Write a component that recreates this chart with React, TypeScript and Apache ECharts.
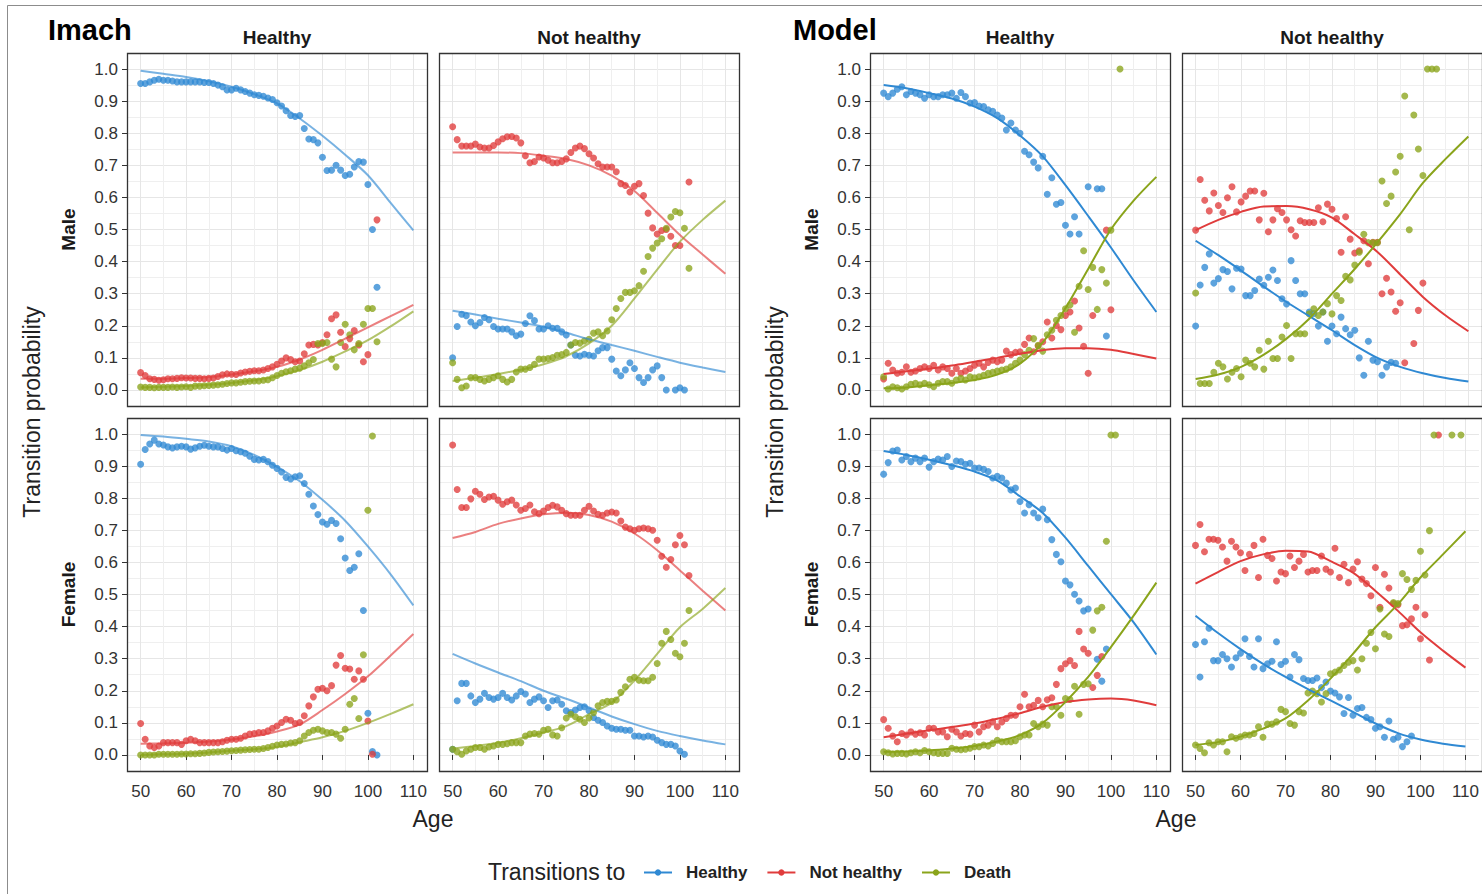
import React, { useEffect, useRef } from "react";
import * as echarts from "echarts";

// ---------- categories / ticks ----------
const FIRST_AGE = 50;
const FIT_AGES = [50, 55, 60, 65, 70, 75, 80, 85, 90, 95, 100, 105, 110];
const X_TICKS = [50, 60, 70, 80, 90, 100, 110];
const Y_TICKS = [0, 0.1, 0.2, 0.3, 0.4, 0.5, 0.6, 0.7, 0.8, 0.9, 1.0];
const BLOCK_TITLES = ["Imach", "Model"];
const COL_TITLES = ["Healthy", "Not healthy"];
const ROW_TITLES = ["Male", "Female"];
const STATES = ["Healthy", "Not healthy", "Death"];
const COLORS = ["#2F89D3", "#E03C3C", "#8AA41B"];

// ---------- Imach, from Healthy, Male (observed, age 50..) ----------
const imHMaleObsH = [0.955,0.955,0.96,0.965,0.968,0.965,0.965,0.963,0.96,0.96,0.96,0.96,0.96,0.96,0.958,0.958,0.955,0.95,0.945,0.935,0.935,0.94,0.935,0.93,0.925,0.92,0.918,0.915,0.91,0.905,0.895,0.885,0.87,0.855,0.852,0.855,0.815,0.782,0.78,0.77,0.725,0.684,0.685,0.70,0.685,0.668,0.672,0.695,0.712,0.71,0.64,0.50,0.32];
const imHMaleObsN = [0.054,0.045,0.035,0.033,0.03,0.032,0.035,0.035,0.036,0.038,0.037,0.037,0.036,0.036,0.035,0.036,0.037,0.042,0.047,0.05,0.049,0.048,0.053,0.056,0.058,0.06,0.06,0.062,0.067,0.072,0.08,0.09,0.1,0.095,0.088,0.09,0.113,0.14,0.142,0.14,0.148,0.172,0.222,0.234,0.18,0.135,0.16,0.185,0.14,0.088,0.11,null,0.53];
const imHMaleObsD = [0.009,0.008,0.008,0.007,0.008,0.008,0.008,0.009,0.008,0.009,0.01,0.008,0.012,0.012,0.013,0.014,0.015,0.016,0.018,0.02,0.022,0.022,0.024,0.026,0.027,0.028,0.028,0.03,0.032,0.038,0.045,0.052,0.057,0.06,0.065,0.068,0.075,0.085,0.095,0.145,0.145,0.148,0.096,0.072,0.148,0.205,0.172,0.125,0.145,0.205,0.254,0.254,0.15];
const imHMaleFitH = [0.995,0.985,0.975,0.962,0.945,0.922,0.893,0.846,0.792,0.733,0.669,0.583,0.497];
const imHMaleFitN = [0.035,0.035,0.037,0.04,0.048,0.058,0.072,0.095,0.125,0.16,0.195,0.23,0.265];
const imHMaleFitD = [0.008,0.01,0.012,0.016,0.022,0.03,0.043,0.062,0.088,0.12,0.155,0.198,0.245];

// ---------- Imach, from Not healthy, Male ----------
const imNMaleObsH = [0.10,0.198,0.236,0.231,0.212,0.20,0.21,0.226,0.219,0.198,0.19,0.19,0.19,0.181,0.169,0.174,0.207,0.231,0.216,0.19,0.19,0.20,0.192,0.192,0.181,0.171,0.14,0.108,0.106,0.111,0.108,0.106,0.122,0.132,0.132,0.096,0.059,0.044,0.0625,0.085,0.067,0.0385,0.023,0.0385,0.0625,0.075,0.0385,0.0,null,0.0,0.007,0.0];
const imNMaleObsN = [0.82,0.78,0.76,0.76,0.76,0.766,0.757,0.754,0.754,0.762,0.773,0.783,0.789,0.79,0.785,0.77,0.73,0.708,0.712,0.726,0.723,0.716,0.708,0.708,0.712,0.72,0.74,0.754,0.76,0.752,0.736,0.723,0.705,0.695,0.695,0.695,0.68,0.643,0.637,0.617,0.635,0.643,0.606,0.551,0.505,0.486,0.497,0.50,0.479,0.45,0.45,null,0.648];
const imNMaleObsD = [0.085,0.033,0.007,0.0125,0.0385,0.0385,0.033,0.028,0.033,0.0385,0.044,0.033,0.025,0.033,0.056,0.065,0.065,0.07,0.08,0.096,0.096,0.098,0.101,0.108,0.11,0.117,0.14,0.148,0.146,0.153,0.158,0.177,0.181,0.169,0.184,0.219,0.254,0.285,0.304,0.304,0.309,0.325,0.37,0.416,0.442,0.458,0.471,0.504,0.539,0.556,0.552,0.504,0.379];
const imNMaleFitH = [0.247,0.235,0.222,0.21,0.197,0.178,0.158,0.14,0.122,0.103,0.085,0.07,0.056];
const imNMaleFitN = [0.74,0.74,0.74,0.738,0.73,0.72,0.70,0.668,0.62,0.552,0.483,0.422,0.362];
const imNMaleFitD = [0.028,0.038,0.05,0.063,0.08,0.105,0.145,0.2,0.285,0.375,0.462,0.53,0.59];

// ---------- Imach, from Healthy, Female ----------
const imHFemObsH = [0.906,0.952,0.969,0.981,0.969,0.966,0.96,0.957,0.96,0.962,0.96,0.953,0.957,0.962,0.965,0.962,0.96,0.96,0.955,0.95,0.955,0.948,0.945,0.94,0.931,0.921,0.919,0.921,0.914,0.903,0.893,0.882,0.865,0.86,0.867,0.87,0.846,0.8125,0.776,0.749,0.726,0.719,0.731,0.721,0.674,0.614,0.575,0.585,0.627,0.45,0.13,0.0104,0.0];
const imHFemObsN = [0.098,0.049,0.028,0.023,0.028,0.0385,0.0385,0.0385,0.0385,0.033,0.044,0.049,0.044,0.0385,0.0385,0.0385,0.0385,0.0385,0.041,0.046,0.049,0.049,0.052,0.059,0.065,0.067,0.07,0.07,0.075,0.083,0.09,0.101,0.111,0.108,0.098,0.101,0.122,0.153,0.181,0.205,0.208,0.2,0.216,0.28,0.31,0.27,0.268,0.236,0.262,0.236,0.106,0.002];
const imHFemObsD = [0,0,0,0,0.002,0.002,0.002,0.002,0.002,0.003,0.003,0.004,0.004,0.005,0.006,0.008,0.009,0.01,0.011,0.012,0.013,0.014,0.015,0.016,0.017,0.018,0.018,0.02,0.023,0.027,0.031,0.033,0.034,0.037,0.0385,0.044,0.059,0.07,0.077,0.08,0.075,0.07,0.07,0.065,0.052,0.08,0.158,0.176,0.1135,0.3125,0.7625,0.994];
const imHFemFitH = [0.997,0.992,0.985,0.977,0.962,0.935,0.898,0.853,0.795,0.73,0.65,0.563,0.466];
const imHFemFitN = [0.035,0.036,0.038,0.042,0.048,0.058,0.073,0.095,0.14,0.19,0.245,0.31,0.377];
const imHFemFitD = [0.0,0.002,0.004,0.008,0.013,0.018,0.025,0.04,0.055,0.075,0.1,0.128,0.158];

// ---------- Imach, from Not healthy, Female ----------
const imNFemObsH = [0.018,0.169,0.223,0.223,0.184,0.1635,0.174,0.192,0.179,0.174,0.179,0.192,0.179,0.171,0.184,0.198,0.19,0.1635,0.174,0.181,0.169,0.148,0.169,0.171,0.158,0.1375,0.132,0.14,0.148,0.15,0.1375,0.117,0.108,0.101,0.09,0.083,0.08,0.08,0.077,0.077,0.059,0.059,0.056,0.059,0.056,0.046,0.0385,0.033,0.033,0.028,0.0125,0.002];
const imNFemObsN = [0.966,0.827,0.771,0.771,0.798,0.822,0.8125,0.796,0.804,0.806,0.794,0.781,0.789,0.794,0.779,0.7625,0.768,0.779,0.758,0.752,0.76,0.771,0.778,0.773,0.7625,0.752,0.747,0.747,0.747,0.7625,0.775,0.76,0.75,0.747,0.754,0.757,0.754,0.729,0.71,0.705,0.70,0.705,0.707,0.705,0.70,0.669,0.619,0.585,0.609,0.655,0.684,0.655,0.559];
const imNFemObsD = [0.018,0.01,0.002,0.0125,0.018,0.023,0.023,0.018,0.025,0.028,0.033,0.033,0.035,0.0385,0.0385,0.0385,0.059,0.065,0.067,0.065,0.077,0.08,0.0625,0.059,0.085,0.115,0.127,0.119,0.111,0.101,0.115,0.132,0.153,0.1635,0.167,0.167,0.171,0.195,0.2125,0.236,0.242,0.233,0.231,0.231,0.242,0.285,0.348,0.385,0.36,0.317,0.306,0.348,0.45];
const imNFemFitH = [0.315,0.285,0.257,0.23,0.2,0.175,0.148,0.12,0.096,0.075,0.059,0.045,0.033];
const imNFemFitN = [0.676,0.695,0.72,0.737,0.75,0.755,0.748,0.727,0.69,0.638,0.575,0.512,0.45];
const imNFemFitD = [0.02,0.028,0.038,0.052,0.07,0.09,0.127,0.163,0.232,0.315,0.398,0.455,0.52];

// ---------- Model, from Healthy, Male ----------
const moHMaleObsH = [0.925,0.914,0.925,0.937,0.945,0.92,0.93,0.925,0.92,0.909,0.92,0.914,0.914,0.92,0.92,0.925,0.909,0.927,0.914,0.894,0.896,0.885,0.883,0.873,0.868,0.857,0.847,0.81,0.832,0.81,0.80,0.744,0.733,0.71,0.692,0.728,0.61,0.661,0.5785,0.584,0.513,0.486,0.54,0.486,null,0.633,null,0.627,0.627,0.168];
const moHMaleObsN = [0.034,0.083,0.062,0.052,0.055,0.072,0.055,0.059,0.067,0.072,0.067,0.077,0.062,0.072,0.067,0.052,0.067,0.052,0.059,0.067,0.077,0.083,0.072,0.086,0.093,0.088,0.093,0.121,0.11,0.117,0.119,0.142,0.162,0.119,0.137,0.15,0.212,0.162,0.201,0.188,0.232,0.243,0.277,0.193,0.136,0.052,0.232,null,null,0.498,0.25];
const moHMaleObsD = [0.041,0.003,0.01,0.007,0.003,0.01,0.018,0.021,0.016,0.021,0.016,0.01,0.021,0.026,0.026,0.021,0.031,0.036,0.031,0.041,0.038,0.041,0.046,0.052,0.055,0.059,0.062,0.065,0.072,0.083,0.093,0.11,0.124,0.16,0.139,0.121,0.172,0.186,0.217,0.232,0.253,0.265,0.18,0.323,0.434,0.313,0.382,0.251,0.375,0.333,0.498,null,1.0];
const moHMaleFitH = [0.95,0.94,0.925,0.908,0.883,0.847,0.793,0.728,0.638,0.542,0.444,0.341,0.243];
const moHMaleFitN = [0.05,0.058,0.066,0.076,0.088,0.1,0.113,0.124,0.13,0.13,0.125,0.112,0.098];
const moHMaleFitD = [0.005,0.008,0.015,0.022,0.031,0.048,0.082,0.148,0.255,0.377,0.5,0.59,0.664];

// ---------- Model, from Not healthy, Male ----------
const moNMaleObsH = [0.199,0.327,0.382,0.424,0.333,0.347,0.375,0.369,0.315,0.379,0.377,0.294,0.294,0.31,0.346,0.326,0.351,0.374,0.341,0.284,0.268,0.403,0.341,0.3,0.3,0.243,0.238,0.199,0.243,0.152,0.199,0.175,0.227,0.191,0.172,0.186,0.1,0.046,0.152,0.093,0.088,0.046,0.072,0.086,0.083];
const moNMaleObsN = [0.498,0.656,0.591,0.558,0.614,0.575,0.553,0.599,0.633,0.555,0.586,0.604,0.62,0.62,0.53,0.613,0.493,0.53,0.565,0.553,0.53,0.499,0.48,0.527,0.522,0.522,0.522,0.568,0.524,0.579,0.563,0.534,0.429,0.54,0.47,0.427,0.434,0.465,0.393,0.46,0.46,0.30,0.348,0.305,0.245,0.272,0.085,null,0.145,0.248,0.333];
const moNMaleObsD = [0.302,0.02,0.02,0.02,0.055,0.083,0.072,0.034,0.055,0.067,0.041,0.093,0.083,0.072,0.124,0.065,0.152,0.098,0.098,0.165,0.201,0.098,0.175,0.175,0.175,0.237,0.253,0.232,0.243,0.269,0.237,0.294,0.279,0.354,0.343,0.389,0.429,0.485,0.459,0.459,0.459,0.651,0.581,0.604,0.679,0.728,0.916,0.499,0.857,0.751,0.668,1.0,1.0,1.0];
const moNMaleFitH = [0.465,0.42,0.372,0.322,0.274,0.23,0.186,0.14,0.1,0.072,0.052,0.037,0.026];
const moNMaleFitN = [0.498,0.53,0.555,0.572,0.573,0.563,0.537,0.485,0.43,0.36,0.29,0.232,0.183];
const moNMaleFitD = [0.034,0.048,0.072,0.11,0.16,0.222,0.3,0.377,0.46,0.548,0.645,0.72,0.79];

// ---------- Model, from Healthy, Female ----------
const moHFemObsH = [0.875,0.911,0.947,0.95,0.919,0.93,0.914,0.925,0.914,0.925,0.897,0.914,0.922,0.919,0.93,0.899,0.916,0.914,0.906,0.909,0.894,0.894,0.89,0.883,0.863,0.868,0.863,0.847,0.826,0.832,0.79,0.754,0.78,0.754,0.739,0.766,0.733,0.671,0.625,0.602,0.542,0.53,0.501,0.48,0.449,0.455,null,0.298,0.23,0.33];
const moHFemObsN = [0.11,0.083,0.059,0.041,0.067,0.062,0.072,0.065,0.069,0.062,0.083,0.083,0.072,0.072,0.057,0.08,0.072,0.059,0.067,0.065,0.093,0.072,0.088,0.093,0.103,0.088,0.103,0.114,0.124,0.124,0.15,0.189,0.15,0.155,0.17,0.15,0.172,0.178,0.22,0.269,0.284,0.294,0.279,0.385,0.33,0.317,0.21,0.248,0.307];
const moHFemObsD = [0.01,0.007,0.003,0.005,0.005,0.003,0.007,0.01,0.007,0.014,0.01,0.007,0.005,0.005,0.005,0.021,0.018,0.016,0.018,0.021,0.026,0.026,0.031,0.028,0.036,0.046,0.041,0.041,0.041,0.044,0.057,0.062,0.062,0.098,0.088,0.096,0.093,0.15,0.15,0.124,0.176,0.173,0.214,0.127,0.22,0.222,0.389,0.449,0.46,0.666,0.997,0.997];
const moHFemFitH = [0.947,0.935,0.92,0.903,0.883,0.855,0.806,0.754,0.677,0.589,0.501,0.413,0.313];
const moHFemFitN = [0.055,0.066,0.077,0.087,0.098,0.113,0.13,0.15,0.165,0.173,0.176,0.17,0.155];
const moHFemFitD = [0.01,0.011,0.014,0.02,0.028,0.042,0.062,0.1,0.165,0.243,0.336,0.434,0.537];

// ---------- Model, from Not healthy, Female ----------
const moNFemObsH = [0.344,0.243,0.353,0.395,0.294,0.294,0.313,0.30,0.274,0.303,0.317,0.362,0.307,0.274,0.362,0.269,0.284,0.292,0.353,0.282,0.292,0.243,0.313,0.297,0.238,0.232,0.232,0.24,0.21,0.227,0.199,0.193,0.181,0.129,0.179,0.124,0.145,0.148,0.117,0.11,0.083,0.088,0.055,0.106,0.049,0.055,0.026,0.041,0.059];
const moNFemObsN = [0.653,0.718,0.633,0.672,0.672,0.669,0.648,0.604,0.666,0.648,0.63,0.575,0.625,0.653,0.553,0.672,0.622,0.612,0.542,0.57,0.565,0.62,0.584,0.604,0.625,0.57,0.575,0.575,0.62,0.579,0.57,0.644,0.553,0.594,0.537,0.579,0.602,0.548,0.534,0.496,0.584,0.46,0.563,0.52,0.472,0.468,0.403,0.406,0.424,0.46,0.362,0.437,0.296,null,0.997];
const moNFemObsD = [0.031,0.02,0.007,0.038,0.031,0.041,0.041,0.01,0.057,0.052,0.057,0.062,0.062,0.067,0.088,0.055,0.096,0.096,0.103,0.142,0.135,0.098,0.093,0.135,0.131,0.193,0.199,0.191,0.165,0.191,0.253,0.258,0.265,0.279,0.289,0.294,0.265,0.3,0.348,0.382,0.331,0.455,0.377,0.369,0.475,0.472,0.565,0.547,0.516,0.544,0.635,0.561,0.699,0.997,null,null,null,0.997,null,0.997];
const moNFemFitH = [0.434,0.38,0.33,0.284,0.243,0.205,0.17,0.134,0.098,0.068,0.048,0.035,0.026];
const moNFemFitN = [0.534,0.57,0.604,0.625,0.636,0.634,0.604,0.568,0.511,0.449,0.382,0.325,0.272];
const moNFemFitD = [0.031,0.04,0.057,0.082,0.114,0.17,0.238,0.315,0.398,0.47,0.553,0.625,0.697];

// ---------- layout (pixels) ----------
const FONT = '"Liberation Sans", Arial, Helvetica, sans-serif';
const COL_X = [127, 439, 870, 1182];
const ROW_Y = [53, 418];
const PANEL_W = 300;
const PANEL_H = 353;
const TITLE_X = [48, 793];

type Panel = { block: number; row: number; col: number; obs: (number | null)[][]; fit: number[][] };

// Model panels first so the legend takes its glyphs from full-opacity lines
const PANELS: Panel[] = [
  { block: 1, row: 0, col: 0, obs: [moHMaleObsH, moHMaleObsN, moHMaleObsD], fit: [moHMaleFitH, moHMaleFitN, moHMaleFitD] },
  { block: 1, row: 0, col: 1, obs: [moNMaleObsH, moNMaleObsN, moNMaleObsD], fit: [moNMaleFitH, moNMaleFitN, moNMaleFitD] },
  { block: 1, row: 1, col: 0, obs: [moHFemObsH, moHFemObsN, moHFemObsD], fit: [moHFemFitH, moHFemFitN, moHFemFitD] },
  { block: 1, row: 1, col: 1, obs: [moNFemObsH, moNFemObsN, moNFemObsD], fit: [moNFemFitH, moNFemFitN, moNFemFitD] },
  { block: 0, row: 0, col: 0, obs: [imHMaleObsH, imHMaleObsN, imHMaleObsD], fit: [imHMaleFitH, imHMaleFitN, imHMaleFitD] },
  { block: 0, row: 0, col: 1, obs: [imNMaleObsH, imNMaleObsN, imNMaleObsD], fit: [imNMaleFitH, imNMaleFitN, imNMaleFitD] },
  { block: 0, row: 1, col: 0, obs: [imHFemObsH, imHFemObsN, imHFemObsD], fit: [imHFemFitH, imHFemFitN, imHFemFitD] },
  { block: 0, row: 1, col: 1, obs: [imNFemObsH, imNFemObsN, imNFemObsD], fit: [imNFemFitH, imNFemFitN, imNFemFitD] },
];

function toObs(arr: (number | null)[]) {
  const out: number[][] = [];
  arr.forEach((v, i) => {
    if (v !== null && v !== undefined) out.push([FIRST_AGE + i, v]);
  });
  return out;
}
function toFit(arr: number[]) {
  return arr.map((v, i) => [FIT_AGES[i], v]);
}

function centeredText(text: string, x: number, y: number, size: number, bold: boolean, fill: string, rotation = 0, align = "center") {
  return {
    type: "text",
    x,
    y,
    rotation,
    silent: true,
    z: 60,
    style: {
      text,
      fontSize: size,
      fontWeight: bold ? "bold" : "normal",
      fontFamily: FONT,
      fill,
      textAlign: align,
      textVerticalAlign: "middle",
      align,
      verticalAlign: "middle",
    },
  };
}

function buildOption() {
  const grid: any[] = [];
  const xAxis: any[] = [];
  const yAxis: any[] = [];
  const series: any[] = [];
  const graphic: any[] = [];

  graphic.push({
    type: "rect",
    shape: { x: 7.5, y: 5.5, width: 1600, height: 1000 },
    style: { fill: "none", stroke: "#8c8c8c", lineWidth: 1 },
    silent: true,
    z: 0,
  });

  PANELS.forEach((p, i) => {
    const left = COL_X[p.block * 2 + p.col];
    const top = ROW_Y[p.row];
    grid.push({ left, top, width: PANEL_W, height: PANEL_H, show: false });
    xAxis.push({
      type: "value",
      gridIndex: i,
      min: 47,
      max: 113,
      splitNumber: 6,
      minInterval: 10,
      maxInterval: 10,
      axisLine: { show: false },
      axisTick: { show: p.row === 1, length: 5, customValues: X_TICKS, lineStyle: { color: "#333", width: 1 } },
      axisLabel: { show: p.row === 1, customValues: X_TICKS, fontSize: 17, color: "#333", margin: 12, fontFamily: FONT },
      splitLine: { show: true, lineStyle: { color: "#E6E6E6", width: 1 } },
      minorTick: { show: false, splitNumber: 2 },
      minorSplitLine: { show: true, lineStyle: { color: "#EFEFEF", width: 1 } },
    });
    yAxis.push({
      type: "value",
      gridIndex: i,
      min: -0.05,
      max: 1.05,
      splitNumber: 11,
      minInterval: 0.1,
      maxInterval: 0.1,
      axisLine: { show: false },
      axisTick: { show: p.col === 0, length: 5, customValues: Y_TICKS, lineStyle: { color: "#333", width: 1 } },
      axisLabel: {
        show: p.col === 0,
        customValues: Y_TICKS,
        formatter: (v: number) => v.toFixed(1),
        fontSize: 17,
        color: "#333",
        margin: 9,
        fontFamily: FONT,
      },
      splitLine: { show: true, lineStyle: { color: "#E6E6E6", width: 1 } },
      minorTick: { show: false, splitNumber: 2 },
      minorSplitLine: { show: true, lineStyle: { color: "#EFEFEF", width: 1 } },
    });

    STATES.forEach((name, k) => {
      series.push({
        type: "line",
        name,
        xAxisIndex: i,
        yAxisIndex: i,
        data: toFit(p.fit[k]),
        smooth: 0.3,
        showSymbol: false,
        symbol: "circle",
        silent: true,
        z: 4,
        itemStyle: { color: COLORS[k] },
        lineStyle: { color: COLORS[k], width: 2, opacity: p.block === 0 ? 0.65 : 1 },
      });
    });
    STATES.forEach((name, k) => {
      series.push({
        type: "scatter",
        name,
        xAxisIndex: i,
        yAxisIndex: i,
        data: toObs(p.obs[k]),
        symbolSize: 7,
        silent: true,
        z: 3,
        itemStyle: { color: COLORS[k], opacity: 0.78 },
      });
    });

    graphic.push({
      type: "rect",
      shape: { x: left + 0.5, y: top + 0.5, width: PANEL_W, height: PANEL_H },
      style: { fill: "none", stroke: "#333333", lineWidth: 1.3 },
      silent: true,
      z: 50,
    });
  });

  [0, 1].forEach((b) => {
    const off = COL_X[b * 2] - COL_X[0];
    graphic.push(centeredText(BLOCK_TITLES[b], TITLE_X[b], 30, 29, true, "#000", 0, "left"));
    [0, 1].forEach((c) => {
      graphic.push(centeredText(COL_TITLES[c], COL_X[b * 2 + c] + PANEL_W / 2, 37, 19, true, "#1a1a1a"));
    });
    [0, 1].forEach((r) => {
      graphic.push(centeredText(ROW_TITLES[r], 68 + off, ROW_Y[r] + PANEL_H / 2, 19, true, "#1a1a1a", Math.PI / 2));
    });
    graphic.push(centeredText("Transition probability", 32 + off, (ROW_Y[0] + ROW_Y[1] + PANEL_H) / 2, 23, false, "#222", Math.PI / 2));
    graphic.push(centeredText("Age", (COL_X[b * 2] + COL_X[b * 2 + 1] + PANEL_W) / 2, 819, 23, false, "#222"));
  });

  graphic.push(centeredText("Transitions to", 488, 872, 23, false, "#222", 0, "left"));

  return {
    animation: false,
    backgroundColor: "#ffffff",
    grid,
    xAxis,
    yAxis,
    series,
    graphic,
    legend: {
      show: true,
      selectedMode: false,
      left: 643,
      top: 864,
      padding: 0,
      itemWidth: 28,
      itemHeight: 8,
      itemGap: 19,
      data: STATES,
      textStyle: { fontSize: 17, fontWeight: "bold", color: "#222", fontFamily: FONT, padding: [0, 0, 0, 9] },
    },
  };
}

export default function App() {
  const ref = useRef<HTMLDivElement>(null);
  useEffect(() => {
    document.body.style.margin = "0";
    if (!ref.current) return;
    const chart = echarts.init(ref.current, undefined, { renderer: "svg" });
    chart.setOption(buildOption() as any);
    return () => chart.dispose();
  }, []);
  return <div ref={ref} style={{ width: 1482, height: 894 }} />;
}
